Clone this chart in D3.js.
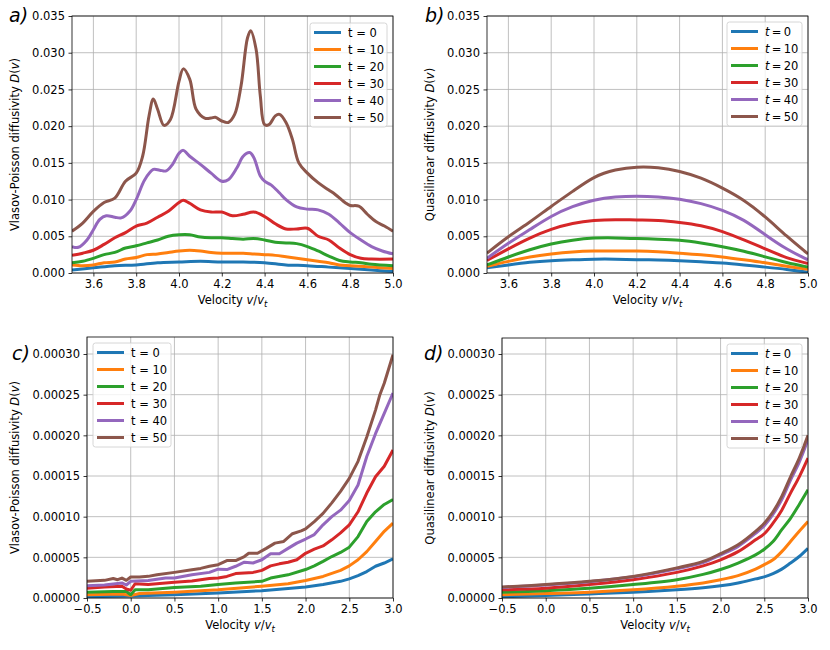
<!DOCTYPE html>
<html><head><meta charset="utf-8">
<script src="https://cdn.jsdelivr.net/npm/d3@7"></script>
<style>
body{margin:0;background:#fff;}
svg text{font-family:"DejaVu Sans",sans-serif;}
</style></head>
<body><svg id="c" width="830" height="650"></svg>
<script>
const colors = ["#1f77b4","#ff7f0e","#2ca02c","#d62728","#9467bd","#8c564b"];
const times = [0,10,20,30,40,50];

// Panel a: Vlasov-Poisson diffusivity, v in [3.5,5]
const aX = {
 t0:[3.5,3.6,3.7,3.8,3.9,4.0,4.1,4.2,4.3,4.4,4.5,4.6,4.7,4.8,4.9,5.0],
 t10:[3.5,3.55,3.6,3.65,3.7,3.75,3.8,3.85,3.9,3.95,4.0,4.05,4.1,4.15,4.2,4.25,4.3,4.35,4.4,4.45,4.5,4.55,4.6,4.65,4.7,4.75,4.8,4.9,5.0],
 t20:[3.5,3.55,3.6,3.65,3.7,3.75,3.8,3.85,3.9,3.95,4.0,4.05,4.1,4.15,4.2,4.25,4.3,4.35,4.4,4.45,4.5,4.55,4.6,4.65,4.7,4.75,4.8,4.85,4.9,5.0],
 t30:[3.5,3.55,3.6,3.65,3.7,3.75,3.8,3.85,3.9,3.95,4.0,4.02,4.05,4.1,4.15,4.2,4.25,4.3,4.35,4.4,4.45,4.5,4.55,4.6,4.65,4.7,4.75,4.8,4.85,4.9,5.0],
 t40:[3.5,3.53,3.57,3.6,3.63,3.66,3.7,3.73,3.77,3.8,3.84,3.88,3.91,3.94,3.97,4.0,4.02,4.05,4.1,4.15,4.2,4.23,4.27,4.3,4.33,4.35,4.38,4.4,4.43,4.47,4.5,4.55,4.6,4.65,4.7,4.75,4.8,4.85,4.9,4.95,5.0],
 t50:[3.5,3.55,3.6,3.65,3.7,3.75,3.8,3.83,3.86,3.88,3.9,3.93,3.96,4.0,4.02,4.05,4.08,4.12,4.15,4.17,4.2,4.23,4.26,4.29,4.32,4.335,4.36,4.38,4.4,4.42,4.45,4.47,4.5,4.53,4.56,4.6,4.65,4.7,4.73,4.78,4.8,4.84,4.88,4.92,4.96,5.0]
};
const aT0  = [0.0004,0.0007,0.0010,0.0011,0.0014,0.0015,0.0016,0.0015,0.0015,0.0014,0.0011,0.0010,0.0008,0.0006,0.0004,0.0002];
const aT10 = [0.0011,0.0010,0.0011,0.0014,0.0015,0.0019,0.0021,0.0025,0.0026,0.0028,0.0030,0.0031,0.0030,0.0028,0.0027,0.0027,0.0027,0.0026,0.0025,0.0024,0.0022,0.0020,0.0018,0.0016,0.0014,0.0011,0.0010,0.0008,0.0006];
const aT20 = [0.0014,0.0016,0.0020,0.0025,0.0028,0.0034,0.0037,0.0041,0.0045,0.0050,0.0052,0.0052,0.0049,0.0048,0.0048,0.0047,0.0046,0.0047,0.0045,0.0042,0.0041,0.0040,0.0036,0.0030,0.0023,0.0017,0.0015,0.0014,0.0012,0.0010];
const aT30 = [0.0024,0.0027,0.0031,0.0039,0.0048,0.0055,0.0064,0.0068,0.0076,0.0084,0.0096,0.0099,0.0095,0.0086,0.0083,0.0083,0.0078,0.0080,0.0083,0.0077,0.0067,0.0060,0.0060,0.0061,0.0050,0.0045,0.0034,0.0025,0.0020,0.0019,0.0019];
const aT40 = [0.0036,0.0035,0.0045,0.0059,0.0073,0.0078,0.0076,0.0075,0.0084,0.0100,0.0127,0.0141,0.0140,0.0139,0.0148,0.0163,0.0167,0.0159,0.0148,0.0136,0.0125,0.0127,0.0143,0.0159,0.0164,0.0157,0.0132,0.0125,0.0120,0.0109,0.0100,0.0090,0.0087,0.0086,0.0080,0.0068,0.0055,0.0045,0.0036,0.0030,0.0026];
const aT50 = [0.0057,0.0068,0.0084,0.0096,0.0102,0.0125,0.0136,0.0159,0.0214,0.0237,0.0223,0.0201,0.0209,0.0261,0.0278,0.0264,0.0223,0.0211,0.0211,0.0212,0.0207,0.0205,0.0216,0.0255,0.0320,0.0330,0.0305,0.0241,0.0202,0.0202,0.0214,0.0216,0.0205,0.0182,0.0150,0.0136,0.0123,0.0113,0.0107,0.0095,0.0092,0.0091,0.0080,0.0070,0.0064,0.0057];

// Panel b: quasilinear diffusivity, v in [3.5,5]
const bV = [3.5,3.6,3.7,3.8,3.9,4.0,4.1,4.2,4.3,4.4,4.5,4.6,4.7,4.8,4.9,5.0];
const bT0  = [0.0007,0.0011,0.0015,0.0017,0.0018,0.0019,0.0019,0.0018,0.0018,0.0017,0.0015,0.0014,0.0011,0.0008,0.0005,0.0001];
const bT10 = [0.0009,0.0016,0.0022,0.0026,0.0029,0.0030,0.0030,0.0030,0.0029,0.0027,0.0025,0.0022,0.0018,0.0014,0.0009,0.0005];
const bT20 = [0.0011,0.0022,0.0032,0.0040,0.0045,0.0048,0.0048,0.0047,0.0046,0.0045,0.0041,0.0036,0.0030,0.0022,0.0014,0.0008];
const bT30 = [0.0017,0.0033,0.0048,0.0060,0.0068,0.0072,0.0073,0.0072,0.0072,0.0069,0.0065,0.0057,0.0045,0.0033,0.0020,0.0013];
const bT40 = [0.0020,0.0041,0.0059,0.0078,0.0091,0.0100,0.0104,0.0105,0.0104,0.0101,0.0095,0.0086,0.0073,0.0052,0.0032,0.0018];
const bT50 = [0.0027,0.0050,0.0069,0.0091,0.0111,0.0132,0.0141,0.0145,0.0144,0.0139,0.0130,0.0116,0.0100,0.0077,0.0050,0.0026];

// Panel c: Vlasov-Poisson diffusivity, v in [-0.5,3]
const cX = {
 t0:[-0.5,0.0,0.5,1.0,1.5,2.0,2.2,2.4,2.5,2.6,2.7,2.8,2.9,3.0],
 t10:[-0.5,-0.1,0.0,0.1,0.5,1.0,1.5,1.8,2.0,2.2,2.4,2.5,2.6,2.7,2.8,2.9,3.0],
 t20:[-0.5,-0.2,-0.05,0.0,0.05,0.2,0.5,0.8,1.0,1.2,1.5,1.6,1.8,2.0,2.1,2.2,2.3,2.4,2.5,2.6,2.7,2.8,2.9,3.0],
 t30:[-0.5,-0.3,-0.1,-0.05,0.0,0.05,0.2,0.5,0.7,0.9,1.0,1.1,1.2,1.4,1.5,1.6,1.7,1.8,1.9,2.0,2.1,2.2,2.3,2.4,2.5,2.6,2.7,2.8,2.9,3.0],
 t40:[-0.5,-0.3,-0.1,-0.05,0.0,0.2,0.4,0.5,0.7,0.9,1.0,1.1,1.2,1.3,1.4,1.5,1.6,1.7,1.8,1.9,2.0,2.1,2.2,2.3,2.4,2.5,2.6,2.7,2.8,2.9,3.0],
 t50:[-0.5,-0.3,-0.2,-0.15,-0.1,-0.05,0.0,0.1,0.2,0.3,0.5,0.7,0.8,0.9,1.0,1.1,1.2,1.3,1.35,1.45,1.55,1.65,1.75,1.85,1.95,2.0,2.1,2.2,2.3,2.4,2.5,2.6,2.7,2.8,2.85,2.9,3.0]
};
const cT0  = [1.5e-6,2.5e-6,4.0e-6,6.0e-6,9.0e-6,1.35e-5,1.65e-5,2.05e-5,2.35e-5,2.75e-5,3.25e-5,3.9e-5,4.3e-5,4.8e-5];
const cT10 = [4.0e-6,5.0e-6,3.0e-6,5.5e-6,7.0e-6,1.0e-5,1.45e-5,1.75e-5,2.15e-5,2.65e-5,3.4e-5,3.95e-5,4.7e-5,5.7e-5,6.95e-5,8.2e-5,9.2e-5];
const cT20 = [7.0e-6,8.0e-6,8.0e-6,4.0e-6,1.0e-5,1.0e-5,1.3e-5,1.45e-5,1.65e-5,1.85e-5,2.05e-5,2.45e-5,2.85e-5,3.5e-5,3.95e-5,4.5e-5,5.1e-5,5.6e-5,6.25e-5,7.55e-5,9.4e-5,1.06e-4,1.15e-4,1.21e-4];
const cT30 = [1.2e-5,1.35e-5,1.45e-5,1.1e-5,9.5e-6,1.75e-5,1.65e-5,1.95e-5,2.1e-5,2.4e-5,2.45e-5,2.65e-5,3.0e-5,3.15e-5,3.4e-5,3.95e-5,4.2e-5,4.4e-5,4.7e-5,5.5e-5,6.0e-5,6.4e-5,7.15e-5,8.0e-5,9.0e-5,1.06e-4,1.29e-4,1.49e-4,1.62e-4,1.82e-4];
const cT40 = [1.5e-5,1.6e-5,1.85e-5,1.6e-5,2.05e-5,2.15e-5,2.45e-5,2.45e-5,2.85e-5,3.15e-5,3.55e-5,3.5e-5,3.9e-5,4.4e-5,4.3e-5,4.7e-5,5.45e-5,5.45e-5,6.1e-5,6.75e-5,7.25e-5,7.8e-5,9.0e-5,1.0e-4,1.08e-4,1.2e-4,1.39e-4,1.74e-4,2.02e-4,2.27e-4,2.52e-4];
const cT50 = [2.05e-5,2.17e-5,2.4e-5,2.25e-5,2.45e-5,2.17e-5,2.58e-5,2.58e-5,2.66e-5,2.86e-5,3.15e-5,3.48e-5,3.64e-5,3.9e-5,4.1e-5,4.6e-5,4.6e-5,5.1e-5,5.5e-5,5.5e-5,6.1e-5,6.75e-5,6.95e-5,7.9e-5,8.25e-5,8.5e-5,9.4e-5,1.04e-4,1.17e-4,1.31e-4,1.47e-4,1.68e-4,1.98e-4,2.31e-4,2.5e-4,2.64e-4,2.99e-4];

// Panel d: quasilinear diffusivity, v in [-0.5,3]
const dV = [-0.5,0.0,0.5,1.0,1.5,1.8,2.0,2.2,2.4,2.5,2.6,2.7,2.8,2.9,3.0];
const dT0  = [1.5e-6,3.0e-6,5.0e-6,7.0e-6,1.0e-5,1.25e-5,1.5e-5,1.85e-5,2.35e-5,2.6e-5,3.0e-5,3.55e-5,4.3e-5,5.1e-5,6.1e-5];
const dT10 = [4.0e-6,5.5e-6,7.0e-6,1.0e-5,1.45e-5,1.85e-5,2.25e-5,2.75e-5,3.55e-5,4.1e-5,4.7e-5,5.7e-5,6.95e-5,8.2e-5,9.4e-5];
const dT20 = [7.0e-6,9.0e-6,1.2e-5,1.65e-5,2.25e-5,2.9e-5,3.5e-5,4.3e-5,5.3e-5,6.0e-5,6.95e-5,8.4e-5,9.8e-5,1.15e-4,1.33e-4];
const dT30 = [1.0e-5,1.2e-5,1.65e-5,2.25e-5,3.15e-5,3.95e-5,4.7e-5,5.7e-5,7.15e-5,7.9e-5,9.2e-5,1.08e-4,1.29e-4,1.49e-4,1.72e-4];
const dT40 = [1.3e-5,1.6e-5,2.0e-5,2.6e-5,3.6e-5,4.35e-5,5.3e-5,6.35e-5,7.95e-5,8.9e-5,1.03e-4,1.21e-4,1.45e-4,1.67e-4,1.95e-4];
const dT50 = [1.35e-5,1.65e-5,2.05e-5,2.65e-5,3.7e-5,4.5e-5,5.45e-5,6.55e-5,8.2e-5,9.2e-5,1.06e-4,1.25e-4,1.49e-4,1.72e-4,2.0e-4];

const xTicksTop = [3.6,3.8,4.0,4.2,4.4,4.6,4.8,5.0];
const yTicksTop = [0,0.005,0.010,0.015,0.020,0.025,0.030,0.035];
const xTicksBot = [-0.5,0.0,0.5,1.0,1.5,2.0,2.5,3.0];
const yTicksBot = [0,0.00005,0.00010,0.00015,0.00020,0.00025,0.00030];

const svg = d3.select("#c");

function panel(o){
  const g = svg.append("g");
  const x = d3.scaleLinear().domain(o.xd).range([o.l,o.r]);
  const y = d3.scaleLinear().domain(o.yd).range([o.b,o.t]);
  const id = "clip"+o.letter[0];
  svg.append("clipPath").attr("id",id).append("rect")
    .attr("x",o.l).attr("y",o.t).attr("width",o.r-o.l).attr("height",o.b-o.t);
  // grid
  g.append("g").selectAll("line").data(o.xt).join("line")
    .attr("x1",d=>x(d)).attr("x2",d=>x(d)).attr("y1",o.t).attr("y2",o.b)
    .attr("stroke","#b0b0b0").attr("stroke-width",0.8);
  g.append("g").selectAll("line").data(o.yt).join("line")
    .attr("x1",o.l).attr("x2",o.r).attr("y1",d=>y(d)).attr("y2",d=>y(d))
    .attr("stroke","#b0b0b0").attr("stroke-width",0.8);
  // lines
  const cg = g.append("g").attr("clip-path",`url(#${id})`);
  o.series.forEach((s,i)=>{
    const pts = s.x.map((v,j)=>[v,s.y[j]]);
    const line = d3.line().x(d=>x(d[0])).y(d=>y(d[1])).curve(o.curve);
    cg.append("path").attr("d",line(pts)).attr("fill","none")
      .attr("stroke",colors[i]).attr("stroke-width",3).attr("stroke-linejoin","round").attr("stroke-linecap","butt");
  });
  // axes
  const ax = g.append("g").attr("transform",`translate(0,${o.b})`)
    .call(d3.axisBottom(x).tickValues(o.xt).tickFormat(d=>d3.format(".1f")(d).replace("-","\u2212")).tickSize(3.5).tickPadding(3.5));
  const ay = g.append("g").attr("transform",`translate(${o.l},0)`)
    .call(d3.axisLeft(y).tickValues(o.yt).tickFormat(d3.format(o.yf)).tickSize(3.5).tickPadding(3.5));
  [ax,ay].forEach(a=>{
    a.select(".domain").remove();
    a.selectAll("text").attr("font-size","11.5px").attr("font-family","DejaVu Sans").attr("fill","#000");
    a.selectAll("line").attr("stroke","#000").attr("stroke-width",0.8);
  });
  g.append("rect").attr("x",o.l).attr("y",o.t).attr("width",o.r-o.l).attr("height",o.b-o.t)
    .attr("fill","none").attr("stroke","#000").attr("stroke-width",0.8);
  // x label
  const xl = g.append("text").attr("x",(o.l+o.r)/2).attr("y",o.b+31).attr("text-anchor","middle")
    .attr("font-size","11.5px");
  xl.append("tspan").text("Velocity ");
  xl.append("tspan").attr("font-style","italic").text("v");
  xl.append("tspan").text("/");
  xl.append("tspan").attr("font-style","italic").text("v");
  xl.append("tspan").attr("font-style","italic").attr("font-size","8.5px").attr("dy",2.5).text("t");
  // y label
  const yl = g.append("text").attr("transform",`translate(${o.ylx},${(o.t+o.b)/2}) rotate(-90)`)
    .attr("text-anchor","middle").attr("font-size","11.5px");
  yl.append("tspan").text(o.ylabel+" ");
  yl.append("tspan").attr("font-style","italic").text("D");
  yl.append("tspan").text("(");
  yl.append("tspan").attr("font-style","italic").text("v");
  yl.append("tspan").text(")");
  // panel letter
  svg.append("text").attr("x",o.lx).attr("y",o.ly).attr("font-family","DejaVu Serif")
    .attr("font-style","italic").attr("font-size","19px").text(o.letter);
  // legend
  const lg = g.append("g");
  lg.append("rect").attr("x",o.lg[0]).attr("y",o.lg[1]).attr("width",o.lg[2]).attr("height",104)
    .attr("rx",2.5).attr("fill","#fff").attr("fill-opacity",0.8).attr("stroke","#cccccc").attr("stroke-width",0.8);
  times.forEach((t,i)=>{
    const yy = o.lg[1]+9.5+i*17;
    lg.append("line").attr("x1",o.lg[0]+4).attr("x2",o.lg[0]+31).attr("y1",yy).attr("y2",yy)
      .attr("stroke",colors[i]).attr("stroke-width",3);
    const tx = lg.append("text").attr("x",o.lg[0]+38).attr("y",yy+4).attr("font-size","11.5px");
    if(o.mathLegend){
      tx.append("tspan").attr("font-style","italic").text("t");
      tx.append("tspan").text("\u2009=\u2009"+t);
    } else {
      tx.text("t = "+t);
    }
  });
}

const curveSmooth = d3.curveCatmullRom.alpha(0.5);

panel({l:72,r:393,t:16,b:273,xd:[3.5,5.0],yd:[0,0.035],xt:xTicksTop,yt:yTicksTop,yf:".3f",
  curve:curveSmooth,ylabel:"Vlasov-Poisson diffusivity",ylx:19,letter:"a)",lx:9,ly:22,
  lg:[310,23,77],mathLegend:false,
  series:[{x:aX.t0,y:aT0},{x:aX.t10,y:aT10},{x:aX.t20,y:aT20},{x:aX.t30,y:aT30},{x:aX.t40,y:aT40},{x:aX.t50,y:aT50}]});
panel({l:487,r:808,t:16,b:273,xd:[3.5,5.0],yd:[0,0.035],xt:xTicksTop,yt:yTicksTop,yf:".3f",
  curve:d3.curveBasis,ylabel:"Quasilinear diffusivity",ylx:434,letter:"b)",lx:425,ly:22,
  lg:[727,22,75],mathLegend:true,
  series:[{x:bV,y:bT0},{x:bV,y:bT10},{x:bV,y:bT20},{x:bV,y:bT30},{x:bV,y:bT40},{x:bV,y:bT50}]});
panel({l:87,r:393,t:337,b:598,xd:[-0.5,3.0],yd:[0,0.0003*261/244],xt:xTicksBot,yt:yTicksBot,yf:".5f",
  curve:d3.curveLinear,ylabel:"Vlasov-Poisson diffusivity",ylx:19,letter:"c)",lx:12,ly:360,
  lg:[93,343,78],mathLegend:false,
  series:[{x:cX.t0,y:cT0},{x:cX.t10,y:cT10},{x:cX.t20,y:cT20},{x:cX.t30,y:cT30},{x:cX.t40,y:cT40},{x:cX.t50,y:cT50}]});
panel({l:502,r:808,t:338,b:598,xd:[-0.5,3.0],yd:[0,0.0003*260/244],xt:xTicksBot,yt:yTicksBot,yf:".5f",
  curve:curveSmooth,ylabel:"Quasilinear diffusivity",ylx:434,letter:"d)",lx:424,ly:360,
  lg:[727,344,75],mathLegend:true,
  series:[{x:dV,y:dT0},{x:dV,y:dT10},{x:dV,y:dT20},{x:dV,y:dT30},{x:dV,y:dT40},{x:dV,y:dT50}]});
</script></body></html>
